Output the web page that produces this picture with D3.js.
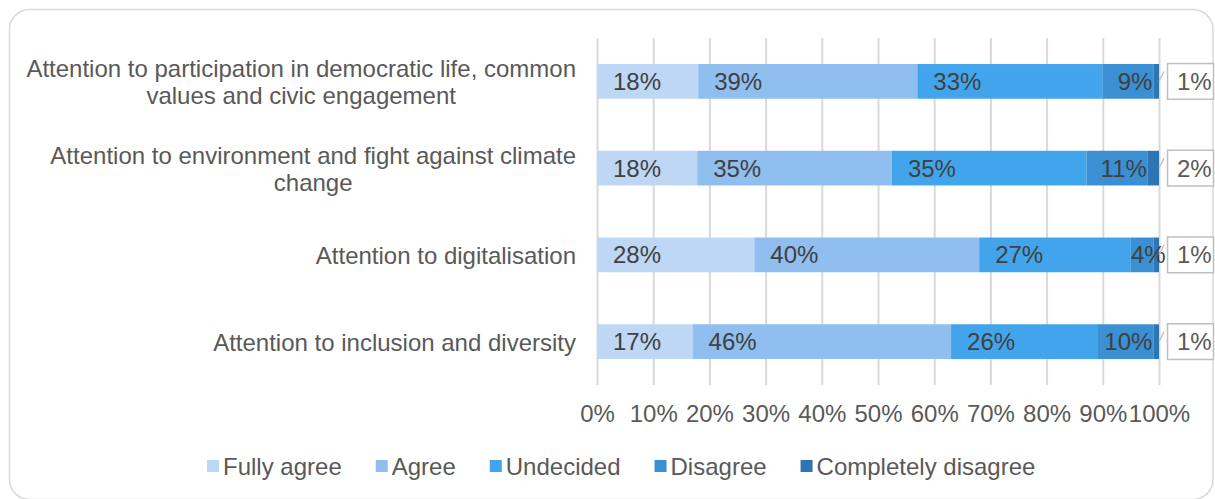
<!DOCTYPE html>
<html>
<head>
<meta charset="utf-8">
<script src="https://cdn.jsdelivr.net/npm/d3@7"></script>
<style>
  html, body { margin: 0; padding: 0; background: #ffffff; }
  svg { display: block; font-family: "Liberation Sans", Arial, sans-serif; }
</style>
</head>
<body>
<svg id="chart" width="1215" height="499"></svg>
<script>
// Survey statements (line breaks mark where the label wraps)
const categories = [
  "Attention to participation in democratic life, common\nvalues and civic engagement",
  "Attention to environment and fight against climate\nchange",
  "Attention to digitalisation",
  "Attention to inclusion and diversity"
];

const seriesNames = ["Fully agree", "Agree", "Undecided", "Disagree", "Completely disagree"];

// Share of answers per statement, in percent
const fullyAgree         = [18, 18, 28, 17];
const agree              = [39, 35, 40, 46];
const undecided          = [33, 35, 27, 26];
const disagree           = [9, 11, 4, 10];
const completelyDisagree = [1, 2, 1, 1];

const tickValues = [0, 0.1, 0.2, 0.3, 0.4, 0.5, 0.6, 0.7, 0.8, 0.9, 1];
const tickLabels = ["0%", "10%", "20%", "30%", "40%", "50%", "60%", "70%", "80%", "90%", "100%"];

const colors = ["#bdd7f5", "#8fbeef", "#42a5ec", "#3b8fd3", "#2e75b6"];

const seriesValues = [fullyAgree, agree, undecided, disagree, completelyDisagree];

// Rows for the 100% stacked layout
const rows = categories.map((c, i) => {
  const row = { category: c };
  seriesNames.forEach((s, k) => { row[s] = seriesValues[k][i]; });
  return row;
});

const stacked = d3.stack()
  .keys(seriesNames)
  .offset(d3.stackOffsetExpand)(rows);

const svg = d3.select("#chart");
const font = 24;
const textGrey = "#595959";
const labelDark = "#404040";

// Rounded frame around the chart
svg.append("rect")
  .attr("x", 9.5).attr("y", 9.5)
  .attr("width", 1203.5).attr("height", 490)
  .attr("rx", 20).attr("ry", 20)
  .attr("fill", "#ffffff")
  .attr("stroke", "#d9d9d9")
  .attr("stroke-width", 1.5);

const x = d3.scaleLinear().domain([0, 1]).range([597, 1159]);
const plotTop = 38, plotBottom = 385;
const y = d3.scaleBand()
  .domain(categories)
  .range([plotTop, plotBottom])
  .paddingInner(0.6)
  .paddingOuter(0.3);

// Vertical gridlines
const grid = svg.append("g")
  .attr("transform", `translate(0,${plotBottom})`)
  .call(d3.axisBottom(x).tickValues(tickValues).tickSize(-(plotBottom - plotTop)).tickFormat(""));
grid.select(".domain").remove();
grid.selectAll(".tick line").attr("stroke", "#d9d9d9").attr("stroke-width", 2);

// Percent tick labels
const xAxis = svg.append("g")
  .attr("transform", `translate(0,${plotBottom})`)
  .call(d3.axisBottom(x).tickValues(tickValues).tickSize(0).tickPadding(20)
    .tickFormat((d, i) => tickLabels[i]));
xAxis.select(".domain").remove();
xAxis.selectAll("text")
  .attr("font-size", font)
  .attr("font-family", "Liberation Sans, Arial, sans-serif")
  .attr("fill", textGrey);

// Category labels, wrapped lines centred as a block and right-aligned to the plot
const catG = svg.append("g");
categories.forEach(c => {
  const lines = c.split("\n");
  const cy = y(c) + y.bandwidth() / 2;
  const lineH = 27;
  const t = catG.append("text")
    .attr("font-size", font)
    .attr("fill", textGrey)
    .attr("dominant-baseline", "central");
  const spans = lines.map((ln, i) =>
    t.append("tspan").text(ln)
      .attr("y", cy + (i - (lines.length - 1) / 2) * lineH));
  const widths = spans.map(s => s.node().getComputedTextLength());
  const maxW = d3.max(widths);
  const right = 576;
  const centre = right - maxW / 2;
  spans.forEach((s, i) => s.attr("x", centre - widths[i] / 2));
});

// Stacked bar segments
const layers = svg.append("g").selectAll("g")
  .data(stacked)
  .join("g")
  .attr("fill", (d, i) => colors[i]);

layers.selectAll("rect")
  .data(d => d.map(v => ({ v, cat: v.data.category })))
  .join("rect")
  .attr("x", d => x(d.v[0]))
  .attr("y", d => y(d.cat))
  .attr("width", d => x(d.v[1]) - x(d.v[0]))
  .attr("height", y.bandwidth());

// Value labels inside the first four segments
const labelG = svg.append("g");
stacked.slice(0, 4).forEach((layer, k) => {
  layer.forEach(v => {
    const val = v.data[seriesNames[k]];
    const x0 = x(v[0]);
    const w = x(v[1]) - x0;
    const t = labelG.append("text")
      .attr("font-size", font)
      .attr("fill", labelDark)
      .attr("dominant-baseline", "central")
      .attr("y", y(v.data.category) + y.bandwidth() / 2)
      .text(val + "%");
    const tw = t.node().getComputedTextLength();
    const off = Math.max(0, Math.min(16, w - tw - 1));
    t.attr("x", x0 + off);
  });
});

// "Completely disagree" values shown in callout boxes beyond the bar end
const calloutG = svg.append("g");
stacked[4].forEach(v => {
  const val = v.data[seriesNames[4]];
  const cy = y(v.data.category) + y.bandwidth() / 2;
  const xe = x(v[1]);
  calloutG.append("line")
    .attr("x1", xe).attr("y1", cy)
    .attr("x2", xe + 5).attr("y2", cy - 10)
    .attr("stroke", "#bfbfbf").attr("stroke-width", 1.2);
  calloutG.append("rect")
    .attr("x", xe + 8.5).attr("y", y(v.data.category) - 0.5)
    .attr("width", 46).attr("height", y.bandwidth() + 1)
    .attr("fill", "#ffffff")
    .attr("stroke", "#bfbfbf").attr("stroke-width", 1.5);
  calloutG.append("text")
    .attr("x", xe + 18).attr("y", cy)
    .attr("font-size", font)
    .attr("fill", textGrey)
    .attr("dominant-baseline", "central")
    .text(val + "%");
});

// Legend
const legend = svg.append("g");
let lx = 207;
const ly = 466;
seriesNames.forEach((name, i) => {
  legend.append("rect")
    .attr("x", lx).attr("y", ly - 6)
    .attr("width", 12).attr("height", 12)
    .attr("fill", colors[i]);
  const t = legend.append("text")
    .attr("x", lx + 16).attr("y", ly)
    .attr("font-size", font)
    .attr("fill", textGrey)
    .attr("dominant-baseline", "central")
    .text(name);
  lx += 16 + t.node().getComputedTextLength() + 34;
});
</script>
</body>
</html>
